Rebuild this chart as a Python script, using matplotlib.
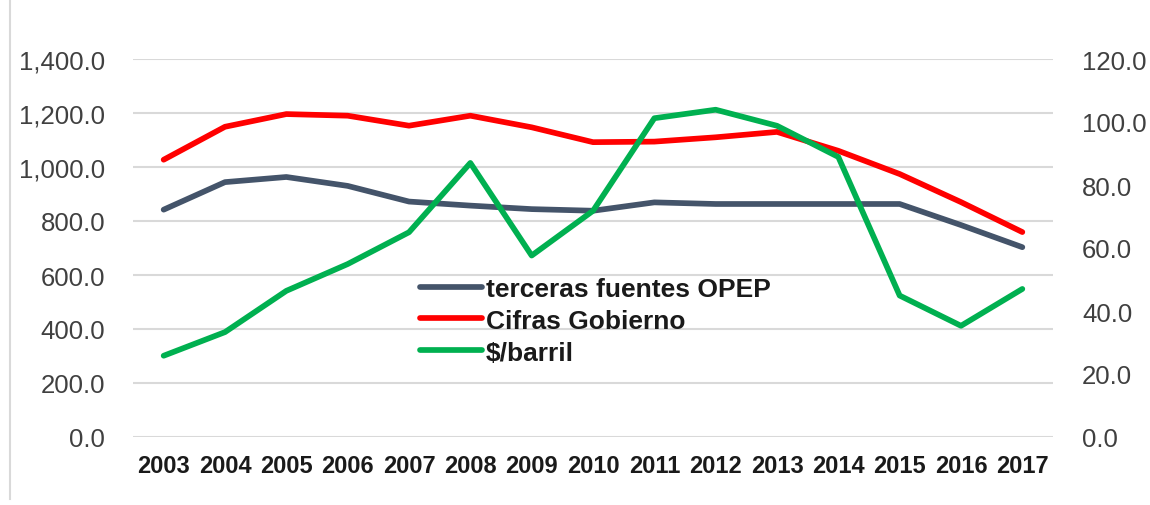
import matplotlib
matplotlib.use("Agg")
import matplotlib.pyplot as plt
from matplotlib.lines import Line2D

plt.rcParams['font.family'] = ['Liberation Sans', 'DejaVu Sans']

years = ['2003', '2004', '2005', '2006', '2007', '2008', '2009', '2010',
         '2011', '2012', '2013', '2014', '2015', '2016', '2017']
opep = [842, 944, 963, 930, 872, 857, 844, 838, 869, 863, 863, 863, 863, 785, 703]
gobierno = [1027, 1149, 1196, 1190, 1153, 1190, 1147, 1092, 1094, 1110, 1130, 1060, 974, 870, 759]
barril = [25.8, 33.3, 46.4, 54.9, 65.0, 87.0, 57.6, 71.8, 101.2, 103.9, 98.8, 88.9, 44.9, 35.3, 47.0]

left_ticks = [0, 200, 400, 600, 800, 1000, 1200, 1400]
right_ticks = [0, 20, 40, 60, 80, 100, 120]

c_blue = '#44546A'
c_red = '#FF0000'
c_green = '#00B050'

fig = plt.figure(figsize=(11.5, 5.06), dpi=100)
ax = fig.add_axes([133/1150, 1-438/506, (1053-133)/1150, (438-60)/506])
ax2 = ax.twinx()

x = list(range(len(years)))
l1, = ax.plot(x, opep, color=c_blue, lw=4.1, solid_capstyle='round', zorder=3)
l2, = ax.plot(x, gobierno, color=c_red, lw=4.1, solid_capstyle='round', zorder=3)
l3, = ax2.plot(x, barril, color=c_green, lw=4.1, solid_capstyle='round', zorder=3)

ax.set_xlim(-0.5, len(years) - 0.5)
ax.set_ylim(0, 1400)
ax2.set_ylim(0, 120)
ax.set_yticks(left_ticks)
ax.set_yticklabels([f"{v:,.1f}" for v in left_ticks])
ax2.set_yticks(right_ticks)
ax2.set_yticklabels([f"{v:.1f}" for v in right_ticks])
ax.set_xticks(x)
ax.set_xticklabels(years, fontweight='bold')

ax.grid(axis='y', color='#D9D9D9', lw=1.5, zorder=0)
ax.set_axisbelow(True)
for a in (ax, ax2):
    for s in a.spines.values():
        s.set_visible(False)
    a.tick_params(length=0)
ax.tick_params(axis='y', labelsize=18.5, pad=20, labelcolor='#404040')
ax2.tick_params(axis='y', labelsize=18.5, pad=21, labelcolor='#404040')
ax.tick_params(axis='x', labelsize=17, pad=12, labelcolor='#1a1a1a')

leg = fig.legend([l1, l2, l3], ['terceras fuentes OPEP', 'Cifras Gobierno', '$/barril'],
                 loc='upper left', bbox_to_anchor=(396/1150, 1-254/506),
                 frameon=False, handlelength=2.35, handletextpad=0.15,
                 labelspacing=0.3, prop={'weight': 'bold', 'size': 19})
for t in leg.get_texts():
    t.set_color('#1a1a1a')

fig.add_artist(Line2D([10/1150, 10/1150], [6/506, 1], color='#D9D9D9', lw=1.5))

fig.savefig('out.png', dpi=100)
